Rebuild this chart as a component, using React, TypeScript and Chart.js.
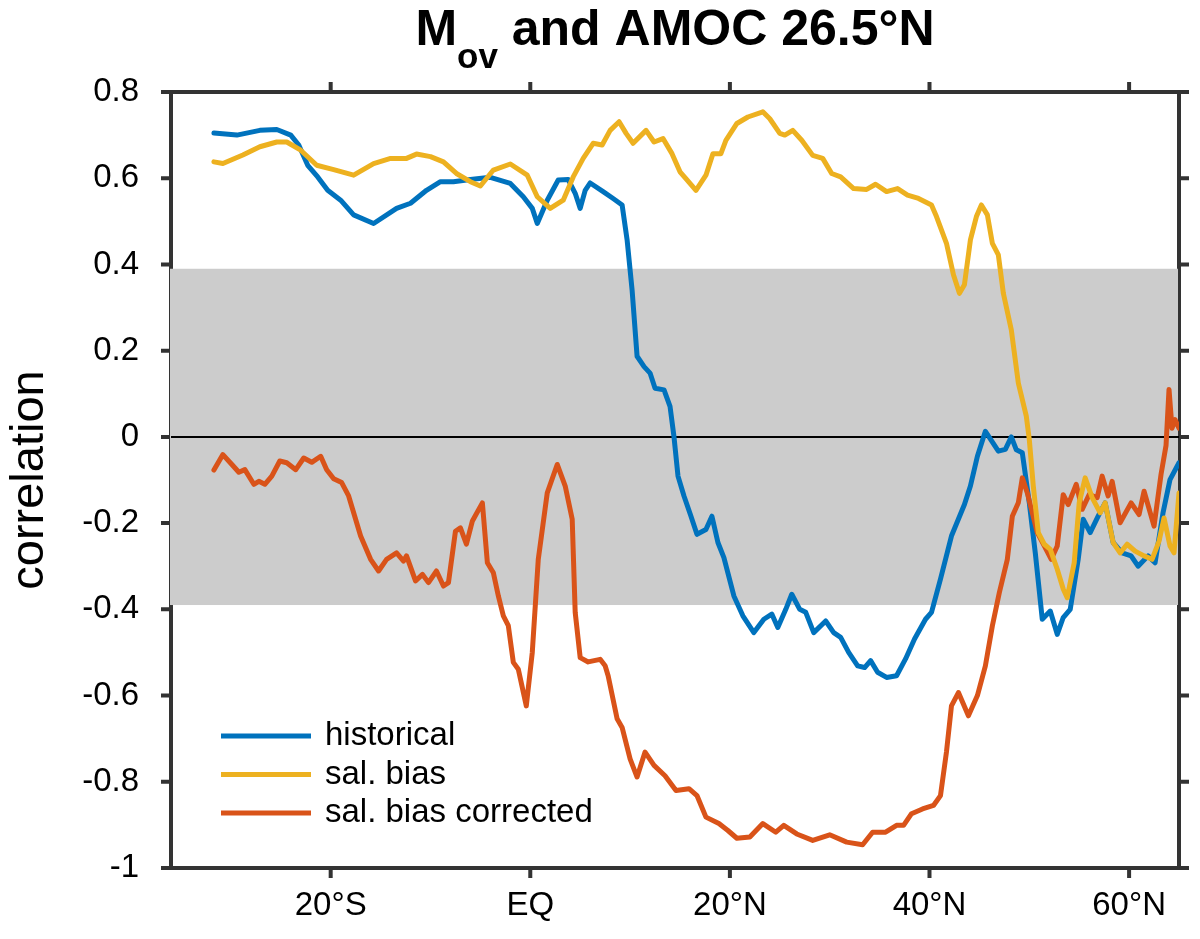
import React, { useEffect, useRef } from "react";
import { Chart, ChartConfiguration, Plugin, registerables } from "chart.js";

Chart.register(...registerables);

const FONT = '"Liberation Sans", Arial, Helvetica, sans-serif';
const AXIS = "#333333";
const TICK = 10;

// axes
const latTicks = [-20, 0, 20, 40, 60];
const latTickLabels = ["20°S", "EQ", "20°N", "40°N", "60°N"];
const corrTicks = [-1, -0.8, -0.6, -0.4, -0.2, 0, 0.2, 0.4, 0.6, 0.8];
const bandLimit = 0.39;

// historical
const histLat = [
  -31.7, -29.4, -27.1, -25.4, -24.0, -23.2, -22.3, -21.3, -20.3, -19.0, -17.7, -15.7,
  -13.4, -12.0, -10.4, -9.0, -7.7, -6.0, -4.0, -2.0, -0.7, 0.2, 0.7, 1.7, 2.8, 3.8,
  4.5, 5.0, 5.5, 6.0, 7.3, 8.3, 9.2, 9.7, 10.2, 10.7, 11.4, 12.0, 12.5, 13.4, 14.0,
  14.4, 14.8, 15.4, 16.1, 16.7, 17.6, 18.2, 18.8, 19.4, 20.4, 21.3, 22.4, 23.4, 24.2,
  24.8, 25.6, 26.2, 27.0, 27.6, 28.4, 29.6, 30.4, 31.1, 31.9, 32.8, 33.5, 34.1, 34.8,
  35.7, 36.7, 37.6, 38.5, 39.6, 40.2, 41.1, 42.2, 43.5, 44.1, 44.8, 45.6, 46.9, 47.6,
  48.2, 48.7, 49.3, 50.0, 50.6, 51.3, 52.1, 52.8, 53.4, 54.1, 54.9, 55.4, 56.1, 56.9,
  57.6, 58.4, 59.3, 60.2, 60.9, 61.9, 62.6, 63.4, 64.1, 65.0,
];
const histCorr = [
  0.705, 0.7, 0.711, 0.713, 0.7, 0.677, 0.63, 0.603, 0.572, 0.549, 0.515, 0.495,
  0.53, 0.542, 0.572, 0.592, 0.592, 0.597, 0.602, 0.588, 0.557, 0.53, 0.495, 0.549, 0.596, 0.597,
  0.565, 0.53, 0.572, 0.589, 0.569, 0.553, 0.538, 0.457, 0.341, 0.187, 0.163, 0.148, 0.113, 0.109, 0.071,
  0.0, -0.091, -0.137, -0.184, -0.226, -0.215, -0.184, -0.245, -0.28, -0.369, -0.415, -0.454, -0.423, -0.411,
  -0.442, -0.4, -0.365, -0.4, -0.407, -0.454, -0.427, -0.454, -0.465, -0.5, -0.531, -0.535, -0.519, -0.546,
  -0.558, -0.554, -0.515, -0.469, -0.423, -0.407, -0.33, -0.23, -0.157, -0.114, -0.045, 0.013, -0.033, -0.029,
  0.0, -0.03, -0.037, -0.153, -0.269, -0.423, -0.404, -0.458, -0.419, -0.4, -0.284, -0.191, -0.222, -0.184,
  -0.153, -0.245, -0.269, -0.276, -0.3, -0.276, -0.292, -0.176, -0.099, -0.06,
];

// sal. bias
const biasLat = [
  -31.7, -30.8, -28.8, -27.1, -25.4, -24.4, -23.0, -21.4, -19.7, -17.7, -15.7, -14.0,
  -12.4, -11.4, -10.0, -8.7, -7.4, -6.0, -5.0, -3.7, -2.0, -0.3, 0.7, 2.0, 3.3, 4.3,
  5.3, 6.3, 7.2, 8.0, 8.9, 9.6, 10.3, 11.6, 12.4, 13.3, 14.2, 15.0, 15.7, 16.6, 17.6,
  18.3, 19.1, 19.6, 20.7, 21.8, 23.3, 24.0, 25.0, 25.5, 26.3, 27.2, 28.3, 29.3, 30.2,
  31.1, 32.4, 33.7, 34.6, 35.7, 36.8, 37.8, 38.9, 40.2, 40.7, 41.7, 42.4, 43.0, 43.5,
  44.1, 44.7, 45.2, 45.8, 46.3, 46.9, 47.4, 48.2, 48.9, 49.7, 50.0, 50.4, 50.9, 51.5,
  52.1, 52.8, 53.4, 53.8, 54.5, 55.0, 55.6, 56.3, 57.1, 57.6, 58.4, 59.1, 59.8, 60.6,
  61.5, 62.3, 63.0, 63.5, 64.1, 64.5, 65.0,
];
const biasCorr = [
  0.638, 0.634, 0.654, 0.673, 0.684, 0.684, 0.665, 0.63, 0.62, 0.607, 0.634, 0.646,
  0.646, 0.656, 0.65, 0.638, 0.611, 0.592, 0.582, 0.619, 0.633, 0.607, 0.557, 0.53, 0.549, 0.603,
  0.646, 0.681, 0.677, 0.711, 0.731, 0.704, 0.681, 0.711, 0.684, 0.692, 0.657, 0.615, 0.596, 0.572, 0.607,
  0.657, 0.657, 0.688, 0.727, 0.742, 0.754, 0.738, 0.704, 0.7, 0.711, 0.688, 0.653, 0.646, 0.611,
  0.603, 0.576, 0.574, 0.586, 0.569, 0.576, 0.561, 0.553, 0.538, 0.511, 0.449, 0.376, 0.333, 0.353,
  0.457, 0.511, 0.538, 0.515, 0.449, 0.422, 0.333, 0.248, 0.125, 0.048, -0.006, -0.114, -0.222, -0.249,
  -0.261, -0.307, -0.353, -0.373, -0.292, -0.153, -0.095, -0.141, -0.176, -0.153, -0.245, -0.269, -0.249, -0.265,
  -0.276, -0.284, -0.242, -0.188, -0.253, -0.269, -0.13,
];

// sal. bias corrected
const fixedLat = [
  -31.7, -30.8, -29.9, -29.2, -28.6, -27.7, -27.2, -26.6, -25.9, -25.1, -24.4, -23.5,
  -22.7, -21.9, -21.0, -20.4, -19.7, -18.9, -18.2, -17.0, -16.0, -15.2, -14.4, -13.4,
  -12.7, -12.4, -11.5, -10.8, -10.2, -9.4, -8.7, -8.2, -7.5, -7.0, -6.4, -5.8, -4.8,
  -4.3, -3.7, -3.2, -2.7, -2.2, -1.7, -1.2, -0.4, 0.2, 0.8, 1.7, 2.7, 3.5, 4.2, 4.5,
  5.0, 5.8, 7.0, 7.5, 7.8, 8.7, 9.2, 10.0, 10.7, 11.5, 12.4, 13.5, 14.6, 15.9, 16.7,
  17.6, 18.9, 19.8, 20.7, 22.0, 23.3, 24.6, 25.4, 26.7, 28.3, 30.0, 31.7, 33.3, 34.3,
  35.6, 36.7, 37.4, 38.2, 39.3, 40.4, 41.1, 41.7, 42.2, 42.9, 43.9, 44.8, 45.6, 46.3,
  47.0, 47.8, 48.3, 48.9, 49.3, 49.8, 50.8, 51.5, 52.2, 52.8, 53.4, 53.9, 54.7, 55.3,
  56.0, 56.8, 57.3, 57.9, 58.3, 59.1, 60.2, 61.0, 61.5, 62.5, 63.2, 63.7, 64.0, 64.3,
  64.6, 65.0,
];
const fixedCorr = [
  -0.077, -0.041, -0.064, -0.082, -0.076, -0.11, -0.103, -0.11, -0.091, -0.056, -0.06, -0.076,
  -0.049, -0.059, -0.045, -0.076, -0.097, -0.106, -0.137, -0.23, -0.284, -0.311, -0.284, -0.269,
  -0.288, -0.276, -0.334, -0.319, -0.338, -0.311, -0.346, -0.338, -0.219, -0.211, -0.249, -0.195, -0.153,
  -0.292, -0.315, -0.369, -0.415, -0.438, -0.523, -0.539, -0.624, -0.5, -0.284, -0.13, -0.064, -0.114, -0.191, -0.407,
  -0.512, -0.522, -0.516, -0.531, -0.554, -0.654, -0.674, -0.747, -0.789, -0.731, -0.762, -0.786, -0.82, -0.816, -0.832,
  -0.882, -0.897, -0.913, -0.931, -0.928, -0.897, -0.917, -0.901, -0.921, -0.936, -0.923, -0.94, -0.946, -0.917,
  -0.917, -0.901, -0.901, -0.874, -0.863, -0.855, -0.832, -0.731, -0.624, -0.593, -0.647, -0.6, -0.531, -0.438,
  -0.361, -0.284, -0.184, -0.153, -0.095, -0.13, -0.222, -0.253, -0.284, -0.253, -0.134, -0.157, -0.11, -0.168,
  -0.134, -0.141, -0.091, -0.137, -0.103, -0.199, -0.153, -0.18, -0.126, -0.207, -0.087, -0.02, 0.11, 0.02,
  0.04, 0.02,
];

const toPoints = (lat: number[], corr: number[]) => lat.map((x, i) => ({ x, y: corr[i] }));

const framePlugin: Plugin = {
  id: "frame",
  beforeDatasetsDraw(chart) {
    const { ctx, chartArea: a } = chart;
    const xs = chart.scales.x;
    const ys = chart.scales.y;
    ctx.save();
    ctx.strokeStyle = AXIS;
    ctx.lineWidth = 4;
    ctx.strokeRect(a.left, a.top, a.right - a.left, a.bottom - a.top);
    ctx.beginPath();
    latTicks.forEach((v) => {
      const px = xs.getPixelForValue(v);
      ctx.moveTo(px, a.top);
      ctx.lineTo(px, a.top - TICK);
      ctx.moveTo(px, a.bottom);
      ctx.lineTo(px, a.bottom + TICK);
    });
    corrTicks.forEach((v) => {
      const py = ys.getPixelForValue(v);
      ctx.moveTo(a.left, py);
      ctx.lineTo(a.left - TICK, py);
      ctx.moveTo(a.right, py);
      ctx.lineTo(a.right + TICK, py);
    });
    ctx.stroke();

    // significance band
    const y0 = ys.getPixelForValue(bandLimit);
    const y1 = ys.getPixelForValue(-bandLimit);
    ctx.fillStyle = "#cccccc";
    ctx.fillRect(a.left - 1, y0, a.right - a.left, y1 - y0);

    // zero line
    const yz = ys.getPixelForValue(0);
    ctx.strokeStyle = "#000000";
    ctx.lineWidth = 2;
    ctx.beginPath();
    ctx.moveTo(a.left, yz);
    ctx.lineTo(a.right, yz);
    ctx.stroke();
    ctx.restore();
  },
  afterDraw(chart) {
    const { ctx, chartArea: a } = chart;
    ctx.save();
    ctx.fillStyle = "#000000";

    // title with subscript
    const big = `bold 50px ${FONT}`;
    const small = `bold 35px ${FONT}`;
    const rest = " and AMOC 26.5°N";
    ctx.font = big;
    const wM = ctx.measureText("M").width;
    const wRest = ctx.measureText(rest).width;
    ctx.font = small;
    const wSub = ctx.measureText("ov").width;
    let x = (a.left + a.right) / 2 - (wM + wSub + wRest) / 2;
    ctx.textBaseline = "alphabetic";
    ctx.textAlign = "left";
    ctx.font = big;
    ctx.fillText("M", x, 45);
    x += wM;
    ctx.font = small;
    ctx.fillText("ov", x, 68);
    x += wSub;
    ctx.font = big;
    ctx.fillText(rest, x, 45);

    // legend
    ctx.font = `33px ${FONT}`;
    ctx.textBaseline = "middle";
    chart.data.datasets.forEach((ds, i) => {
      const y = 736 + i * 38.5;
      ctx.strokeStyle = ds.borderColor as string;
      ctx.lineWidth = 5;
      ctx.beginPath();
      ctx.moveTo(221, y);
      ctx.lineTo(311, y);
      ctx.stroke();
      ctx.fillStyle = "#000000";
      ctx.fillText(ds.label as string, 325, y);
    });
    ctx.restore();
  },
};

const App: React.FC = () => {
  const chartRef = useRef<HTMLCanvasElement | null>(null);
  const chartInstance = useRef<Chart | null>(null);

  useEffect(() => {
    if (!chartRef.current) return;
    if (chartInstance.current) chartInstance.current.destroy();
    const ctx = chartRef.current.getContext("2d");
    if (!ctx) return;

    const line = { borderWidth: 5, pointRadius: 0, tension: 0, borderJoinStyle: "round", borderCapStyle: "round", fill: false };

    const config: ChartConfiguration = {
      type: "line",
      data: {
        datasets: [
          { ...line, label: "historical", data: toPoints(histLat, histCorr), borderColor: "#0072BD", order: 3 } as any,
          { ...line, label: "sal. bias", data: toPoints(biasLat, biasCorr), borderColor: "#EDB120", order: 1 } as any,
          { ...line, label: "sal. bias corrected", data: toPoints(fixedLat, fixedCorr), borderColor: "#D95319", order: 2 } as any,
        ],
      },
      options: {
        responsive: false,
        maintainAspectRatio: false,
        animation: false,
        layout: { padding: { top: 92, right: 21, left: 0, bottom: 0 } },
        plugins: {
          legend: { display: false },
          tooltip: { enabled: false },
          title: { display: false },
        },
        scales: {
          x: {
            type: "linear",
            min: -36,
            max: 65,
            grid: { display: false, drawTicks: false },
            border: { display: false },
            afterBuildTicks: (s: any) => {
              s.ticks = latTicks.map((value) => ({ value }));
            },
            afterFit: (s: any) => {
              s.height = 71;
            },
            ticks: {
              padding: 18,
              color: "#000000",
              font: { family: FONT, size: 33 },
              maxRotation: 0,
              callback: (v: any) => latTickLabels[latTicks.indexOf(Number(v))] ?? "",
            },
          },
          y: {
            type: "linear",
            min: -1,
            max: 0.8,
            grid: { display: false, drawTicks: false },
            border: { display: false },
            afterBuildTicks: (s: any) => {
              s.ticks = corrTicks.map((value) => ({ value }));
            },
            afterFit: (s: any) => {
              s.width = 171;
            },
            ticks: {
              padding: 32,
              color: "#000000",
              font: { family: FONT, size: 33 },
              callback: (v: any) => String(Number(Number(v).toFixed(1))),
            },
            title: {
              display: true,
              text: "correlation",
              color: "#000000",
              font: { family: FONT, size: 47 },
              padding: { top: 2, bottom: 0 },
            },
          },
        },
      },
      plugins: [framePlugin],
    };

    chartInstance.current = new Chart(ctx, config);
    return () => {
      if (chartInstance.current) {
        chartInstance.current.destroy();
        chartInstance.current = null;
      }
    };
  }, []);

  return (
    <div style={{ position: "absolute", left: 0, top: 0, width: 1200, height: 939, background: "#ffffff" }}>
      <canvas ref={chartRef} width={1200} height={939}></canvas>
    </div>
  );
};

export default App;
